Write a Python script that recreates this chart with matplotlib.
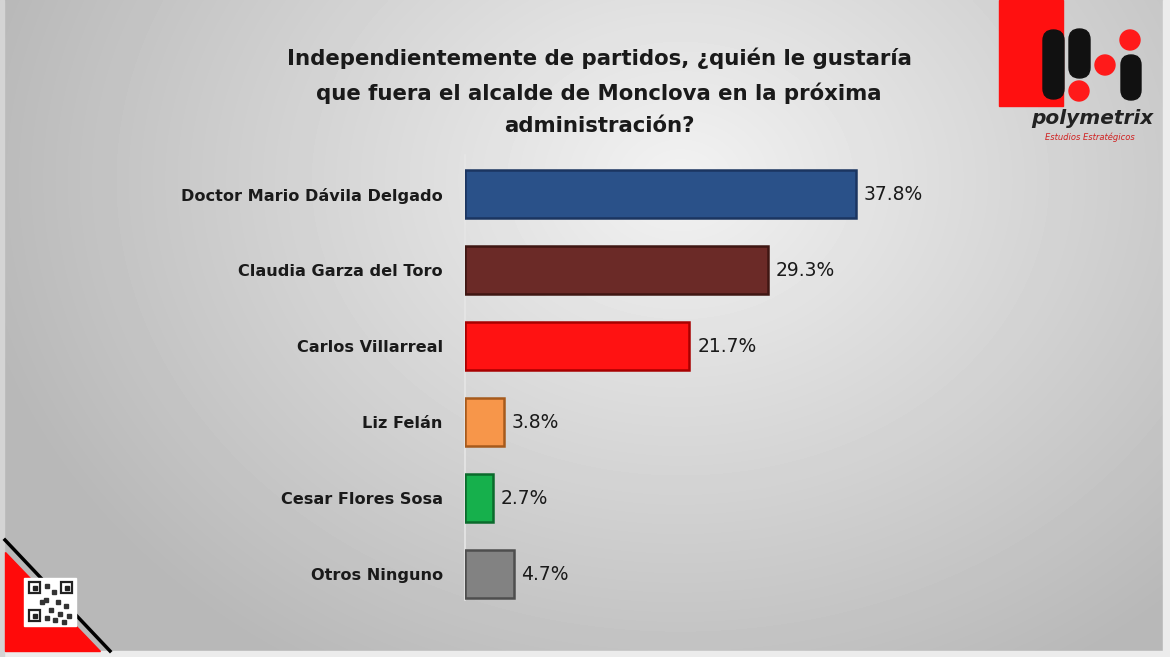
import numpy as np
import matplotlib.pyplot as plt
from matplotlib.patches import Polygon, FancyBboxPatch, Circle, Rectangle

categories = ['Doctor Mario Dávila Delgado', 'Claudia Garza del Toro', 'Carlos Villarreal',
              'Liz Felán', 'Cesar Flores Sosa', 'Otros Ninguno']
values = [37.8, 29.3, 21.7, 3.8, 2.7, 4.7]
labels = ['37.8%', '29.3%', '21.7%', '3.8%', '2.7%', '4.7%']
colors = ['#2A5189', '#6B2A27', '#FF1212', '#F7964A', '#16B04C', '#828282']
edges = ['#1B3560', '#3F1612', '#A80000', '#A65A1C', '#0B6A2C', '#4E4E4E']
title = ('Independientemente de partidos, ¿quién le gustaría\n'
         'que fuera el alcalde de Monclova en la próxima\nadministración?')

W, H = 1170, 657
fig = plt.figure(figsize=(W / 100, H / 100), dpi=100)

# background gradient
bg = fig.add_axes([0, 0, 1, 1])
yy, xx = np.mgrid[0:H, 0:W]
d = np.sqrt(((xx - 680) / 750.0) ** 2 + ((yy - 180) / 600.0) ** 2)
shade = np.clip(0.95 - 0.24 * d, 0.72, 0.95)
bg.imshow(shade, cmap='gray', vmin=0, vmax=1, extent=[0, W, H, 0], aspect='auto')
bg.set_xlim(0, W)
bg.set_ylim(H, 0)
bg.axis('off')
# frame strips
bg.add_patch(Rectangle((1163, 0), 7, H, color='#ececec', zorder=1))
bg.add_patch(Rectangle((0, 651), W, 6, color='#ececec', zorder=1))
bg.add_patch(Rectangle((0, 0), 4, H, color='#d4d4d4', zorder=1))

# bottom-left red corner with QR
bg.add_patch(Polygon([[5, 552], [5, 651], [100, 651]], closed=True, color='#FF0A0A', zorder=2))
bg.plot([5, 110], [540, 651], color='black', lw=2.5, zorder=3)
bg.add_patch(Rectangle((24, 578), 52, 48, color='white', zorder=4))
for qx, qy in [(29, 582), (61, 582), (29, 610)]:
    bg.add_patch(Rectangle((qx, qy), 11, 11, fill=False, ec='#222222', lw=1.6, zorder=5))
    bg.add_patch(Rectangle((qx + 3.5, qy + 3.5), 4, 4, color='#222222', zorder=5))
for qx, qy in [(45, 584), (52, 590), (44, 598), (56, 600), (64, 604), (49, 608),
               (58, 612), (67, 614), (45, 616), (53, 618), (62, 620), (40, 600)]:
    bg.add_patch(Rectangle((qx, qy), 4, 4, color='#333333', zorder=5))

# logo top right
bg.add_patch(Rectangle((999, 0), 64, 106, color='#FF1010', zorder=2))
for px0, px1, y0, y1 in [(1043, 1064, 30, 99), (1069, 1090, 29, 78), (1121, 1141, 55, 100)]:
    r = (px1 - px0) / 2
    bg.add_patch(FancyBboxPatch((px0, y0), px1 - px0, y1 - y0,
                                boxstyle='round,pad=0,rounding_size=%g' % r,
                                color='#111111', zorder=3))
for cx, cy in [(1130, 40), (1105, 65), (1079, 91)]:
    bg.add_patch(Circle((cx, cy), 10, color='#FF1A1A', zorder=4))
bg.text(1092, 119, 'polymetrix', fontsize=14.5, style='italic', fontweight='bold',
        color='#222222', ha='center', va='center', zorder=5)
bg.text(1090, 137, 'Estudios Estratégicos', fontsize=6, style='italic',
        color='#D02020', ha='center', va='center', zorder=5)

# title
fig.text(599 / W, 1 - 92 / H, title, ha='center', va='center', fontsize=15.3,
         fontweight='bold', color='#1a1a1a', linespacing=1.75)

# bar chart
x0, x1, ytop, ybot = 465, 1000, 155, 600
ax = fig.add_axes([x0 / W, 1 - ybot / H, (x1 - x0) / W, (ybot - ytop) / H])
ax.patch.set_alpha(0)
pos = np.arange(len(values))
ax.barh(pos, values, height=0.63, color=colors, edgecolor=edges, linewidth=1.8, zorder=3)
for p, v, lab in zip(pos, values, labels):
    ax.text(v + 0.75, p + 0.01, lab, va='center', ha='left', fontsize=13.5, color='#1a1a1a')
ax.set_xlim(0, (x1 - x0) / 10.34)
ax.set_ylim(5.34, -0.513)
ax.set_yticks(pos)
ax.set_yticklabels(categories, fontsize=11.6, fontweight='bold', color='#1a1a1a')
ax.tick_params(axis='y', length=0, pad=16)
ax.set_xticks([])
for s in ['top', 'right', 'bottom']:
    ax.spines[s].set_visible(False)
ax.spines['left'].set_color('#e6e6e6')
ax.spines['left'].set_linewidth(1.2)

fig.savefig('out.png', dpi=100)
